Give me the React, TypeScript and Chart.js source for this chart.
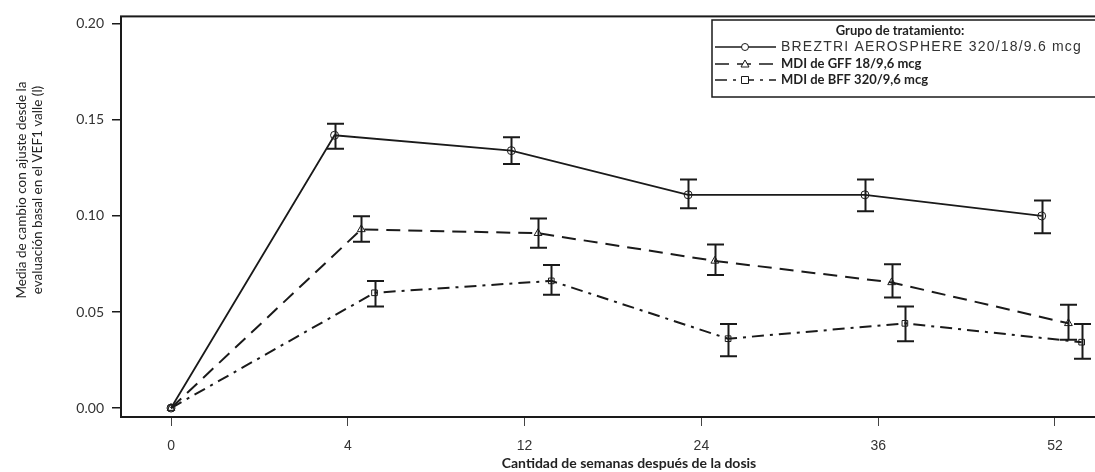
import React, { useEffect, useRef } from "react";
import { Chart, registerables } from "chart.js";

Chart.register(...registerables);

// ---- data ----
const weeks = ["0", "4", "12", "24", "36", "52"];
const seriesNames = [
  "BREZTRI AEROSPHERE 320/18/9.6 mcg",
  "MDI de GFF 18/9,6 mcg",
  "MDI de BFF 320/9,6 mcg",
];
const breztriMean = [0, 0.142, 0.134, 0.111, 0.111, 0.1];
const breztriLow = [0, 0.135, 0.127, 0.104, 0.1025, 0.091];
const breztriHigh = [0, 0.148, 0.141, 0.119, 0.119, 0.108];
const gffMean = [0, 0.093, 0.091, 0.0766, 0.0654, 0.0441];
const gffLow = [0, 0.0866, 0.0835, 0.0693, 0.0576, 0.0356];
const gffHigh = [0, 0.0999, 0.0987, 0.0852, 0.0749, 0.0538];
const bffMean = [0, 0.06, 0.0662, 0.0361, 0.0441, 0.0343];
const bffLow = [0, 0.0529, 0.059, 0.0269, 0.0348, 0.0257];
const bffHigh = [0, 0.0662, 0.0745, 0.0438, 0.0528, 0.0438];
const yTicks = [0, 0.05, 0.1, 0.15, 0.2];

const legendTitle = "Grupo de tratamiento:";
const xTitle = "Cantidad de semanas después de la dosis";
const yTitle = ["Media de cambio con ajuste desde la", "evaluación basal en el VEF1 valle (l)"];

// ---- styling / layout ----
const dodge = [-0.075, 0.076, 0.151];
const pointStyles = ["circle", "triangle", "rect"];
const dashes: number[][] = [[], [14, 8], [12, 6, 3, 6]];
const lineWidths = [1.8, 2, 2];
const INK = "#1a1a1a";

const means = [breztriMean, gffMean, bffMean];
const lows = [breztriLow, gffLow, bffLow];
const highs = [breztriHigh, gffHigh, bffHigh];

const errorBarPlugin = {
  id: "errorBars",
  afterDatasetsDraw(chart: any) {
    const { ctx, scales } = chart;
    const xs = scales.x;
    const ys = scales.y;
    ctx.save();
    ctx.strokeStyle = INK;
    ctx.lineWidth = 2;
    ctx.setLineDash([]);
    means.forEach((_, s) => {
      weeks.forEach((_, i) => {
        const lo = lows[s][i];
        const hi = highs[s][i];
        if (hi === lo) return;
        const xv = i === 0 ? 0 : i + dodge[s];
        const px = Math.round(xs.getPixelForValue(xv)) + 0.5;
        const y1 = ys.getPixelForValue(lo);
        const y2 = ys.getPixelForValue(hi);
        ctx.beginPath();
        ctx.moveTo(px, y1);
        ctx.lineTo(px, y2);
        ctx.moveTo(px - 8.5, y1);
        ctx.lineTo(px + 8.5, y1);
        ctx.moveTo(px - 8.5, y2);
        ctx.lineTo(px + 8.5, y2);
        ctx.stroke();
      });
    });
    ctx.restore();
  },
};

const framePlugin = {
  id: "frameAndText",
  afterDraw(chart: any) {
    const { ctx, chartArea } = chart;
    const { left, top, right, bottom } = chartArea;
    ctx.save();
    // frame
    ctx.strokeStyle = INK;
    ctx.lineWidth = 2;
    ctx.setLineDash([]);
    ctx.strokeRect(left, top, right - left, bottom - top);

    // y title
    ctx.fillStyle = "#222";
    ctx.font = "13.5px Lato, 'Open Sans', sans-serif";
    ctx.textAlign = "center";
    ctx.textBaseline = "middle";
    const cy = 190;
    [22, 38].forEach((x, k) => {
      ctx.save();
      ctx.translate(x, cy);
      ctx.rotate(-Math.PI / 2);
      ctx.fillText(yTitle[k], 0, 0);
      ctx.restore();
    });

    // x title
    ctx.font = "bold 14px Lato, 'Open Sans', sans-serif";
    ctx.fillText(xTitle, 629, 463);

    // legend
    const bx = 712;
    const by = 20;
    ctx.fillStyle = "#fff";
    ctx.fillRect(bx, by, 420, 77);
    ctx.lineWidth = 1.5;
    ctx.strokeStyle = INK;
    ctx.strokeRect(bx, by, 420, 77);
    ctx.fillStyle = "#222";
    ctx.font = "bold 13px Lato, 'Open Sans', sans-serif";
    ctx.textAlign = "center";
    ctx.fillText(legendTitle, 900, 31);
    const rowsY = [47, 64, 80];
    seriesNames.forEach((name, s) => {
      const y = rowsY[s];
      ctx.strokeStyle = INK;
      ctx.lineWidth = 1.3;
      ctx.setLineDash(dashes[s]);
      ctx.beginPath();
      ctx.moveTo(715, y);
      ctx.lineTo(776, y);
      ctx.stroke();
      ctx.setLineDash([]);
      ctx.lineWidth = 1;
      ctx.fillStyle = "#fff";
      const mx = 745;
      ctx.beginPath();
      if (pointStyles[s] === "circle") {
        ctx.arc(mx, y, 3.5, 0, Math.PI * 2);
      } else if (pointStyles[s] === "triangle") {
        ctx.moveTo(mx, y - 4);
        ctx.lineTo(mx + 4, y + 3);
        ctx.lineTo(mx - 4, y + 3);
        ctx.closePath();
      } else {
        ctx.rect(mx - 3.5, y - 3.5, 7, 7);
      }
      ctx.fill();
      ctx.stroke();
      ctx.fillStyle = "#222";
      ctx.textAlign = "left";
      if (s === 0) {
        ctx.font = "14px 'Liberation Sans', Arial, sans-serif";
        ctx.fillStyle = "#333";
        (ctx as any).letterSpacing = "1.2px";
      } else {
        ctx.font = "bold 13px Lato, 'Open Sans', sans-serif";
        (ctx as any).letterSpacing = "0px";
      }
      ctx.fillText(name, 781, y);
    });
    (ctx as any).letterSpacing = "0px";
    ctx.restore();
  },
};

export default function App() {
  const ref = useRef<HTMLCanvasElement | null>(null);

  useEffect(() => {
    if (!ref.current) return;
    const datasets = seriesNames.map((name, s) => ({
      label: name,
      data: weeks.map((_, i) => ({ x: i === 0 ? 0 : i + dodge[s], y: means[s][i] })),
      borderColor: INK,
      backgroundColor: "rgba(0,0,0,0)",
      borderWidth: lineWidths[s],
      borderDash: dashes[s],
      pointStyle: pointStyles[s],
      pointRadius: s === 1 ? 4.5 : 4,
      pointBorderWidth: 1,
      pointBorderColor: INK,
      pointBackgroundColor: "rgba(0,0,0,0)",
      showLine: true,
      tension: 0,
    }));

    const chart = new Chart(ref.current, {
      type: "scatter",
      data: { datasets },
      options: {
        animation: false,
        responsive: false,
        layout: { padding: { left: 0, top: 14, right: 10, bottom: 0 } },
        plugins: {
          legend: { display: false },
          tooltip: { enabled: false },
        },
        scales: {
          x: {
            type: "linear",
            min: -0.283,
            max: 5.283,
            afterBuildTicks: (scale: any) => {
              scale.ticks = weeks.map((_, i) => ({ value: i }));
            },
            afterFit: (scale: any) => {
              scale.height = 55;
            },
            ticks: {
              callback: (v: any) => weeks[Math.round(Number(v))] ?? "",
              font: { family: "'Liberation Sans Narrow', 'Liberation Sans', sans-serif", size: 14 },
              color: "#333",
              padding: 12,
              maxRotation: 0,
              autoSkip: false,
            },
            grid: {
              drawOnChartArea: false,
              drawTicks: true,
              tickLength: 9,
              color: "#444",
              lineWidth: 1,
            },
            border: { display: false },
          },
          y: {
            type: "linear",
            min: -0.00466,
            max: 0.20388,
            afterBuildTicks: (scale: any) => {
              scale.ticks = yTicks.map((v) => ({ value: v }));
            },
            afterFit: (scale: any) => {
              scale.width = 121;
            },
            ticks: {
              callback: (v: any) => Number(v).toFixed(2),
              font: { family: "Lato, 'Open Sans', sans-serif", size: 14 },
              color: "#333",
              padding: 8,
            },
            grid: {
              drawOnChartArea: false,
              drawTicks: true,
              tickLength: 9,
              color: INK,
              lineWidth: 1.5,
            },
            border: { display: false },
          },
        },
      },
      plugins: [errorBarPlugin, framePlugin],
    } as any);
    return () => chart.destroy();
  }, []);

  return (
    <div
      style={{
        position: "fixed",
        left: 0,
        top: 0,
        width: 1095,
        height: 472,
        overflow: "hidden",
        background: "#fff",
      }}
    >
      <canvas ref={ref} width={1115} height={472} style={{ display: "block" }} />
    </div>
  );
}
